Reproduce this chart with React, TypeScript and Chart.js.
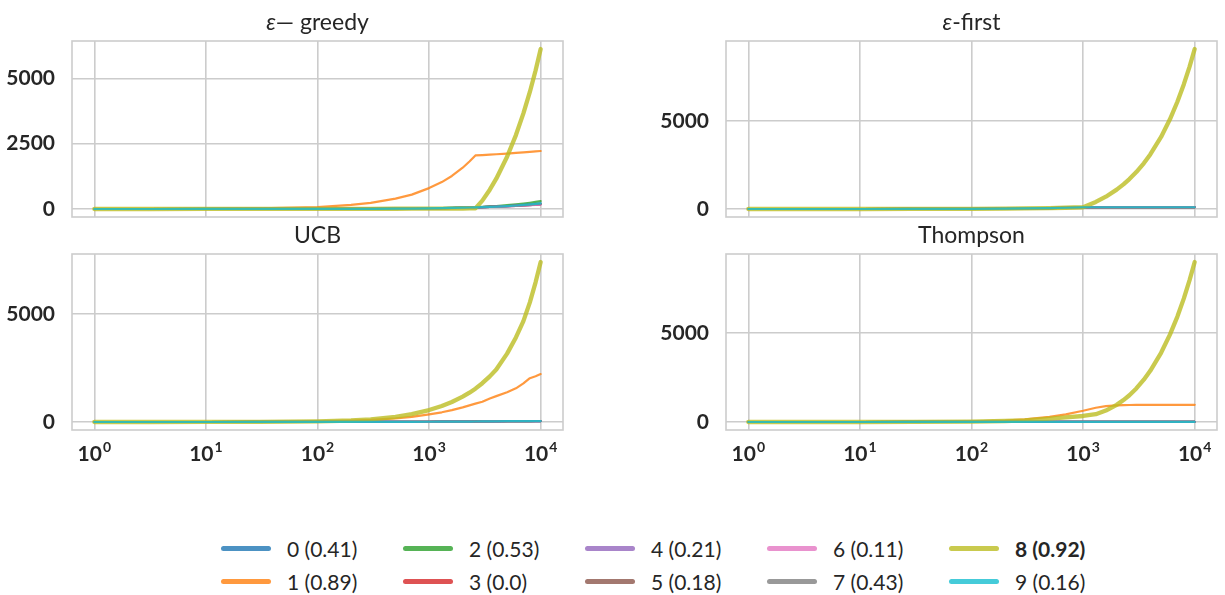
import React, { useEffect, useRef } from "react";
import { Chart, registerables } from "chart.js";

Chart.register(...registerables);

// Time steps (log-spaced sampling of the 10 000-step run)
const STEPS = [1, 3, 10, 30, 100, 200, 300, 500, 700, 1000, 1300, 1600, 2000, 2300, 2600, 3000, 3500, 4000, 5000, 6000, 7000, 8000, 9000, 10000];

// Arms: label shows the arm's success probability
const ARM_LABELS = ["0 (0.41)", "1 (0.89)", "2 (0.53)", "3 (0.0)", "4 (0.21)", "5 (0.18)", "6 (0.11)", "7 (0.43)", "8 (0.92)", "9 (0.16)"];
const BEST_ARM = 8;
const ARM_COLORS = [
  "rgba(31,119,180,0.8)",
  "rgba(255,127,14,0.8)",
  "rgba(44,160,44,0.8)",
  "rgba(214,39,40,0.8)",
  "rgba(148,103,189,0.8)",
  "rgba(140,86,75,0.8)",
  "rgba(227,119,194,0.8)",
  "rgba(127,127,127,0.8)",
  "rgba(188,189,34,0.8)",
  "rgba(23,190,207,0.8)",
];

const X_TICKS = [1, 10, 100, 1000, 10000];

// Cumulative pulls per arm — ε-greedy
const GREEDY_0 = [0, 0, 1, 2, 4, 6, 8, 13, 18, 25, 33, 40, 50, 58, 65, 75, 85, 95, 115, 138, 160, 180, 200, 220];
const GREEDY_1 = [1, 2, 6, 21, 75, 155, 235, 395, 550, 800, 1030, 1265, 1580, 1820, 2050, 2065, 2080, 2095, 2120, 2145, 2165, 2185, 2205, 2220];
const GREEDY_2 = [0, 0, 1, 2, 4, 7, 9, 14, 19, 27, 35, 43, 53, 62, 70, 85, 100, 115, 150, 180, 210, 240, 270, 300];
const GREEDY_3 = [0, 0, 0, 1, 3, 5, 7, 12, 17, 24, 31, 38, 48, 56, 63, 71, 80, 89, 105, 122, 138, 152, 166, 180];
const GREEDY_4 = [0, 0, 1, 1, 3, 5, 7, 11, 16, 23, 30, 37, 47, 55, 62, 70, 79, 88, 104, 121, 137, 151, 165, 180];
const GREEDY_5 = [0, 0, 0, 1, 3, 5, 8, 12, 17, 25, 32, 39, 49, 57, 64, 72, 81, 90, 107, 125, 141, 157, 171, 185];
const GREEDY_6 = [0, 0, 0, 1, 3, 5, 7, 11, 16, 23, 30, 37, 46, 54, 61, 68, 77, 85, 101, 118, 133, 147, 161, 175];
const GREEDY_7 = [0, 0, 1, 2, 4, 6, 8, 13, 18, 25, 33, 40, 50, 58, 66, 74, 83, 92, 110, 128, 147, 165, 183, 200];
const GREEDY_8 = [0, 0, 1, 2, 4, 6, 8, 10, 12, 14, 16, 18, 20, 22, 24, 320, 740, 1160, 2000, 2830, 3660, 4480, 5300, 6125];
const GREEDY_9 = [0, 0, 1, 2, 4, 6, 8, 13, 18, 25, 33, 40, 50, 57, 64, 72, 82, 92, 112, 135, 155, 175, 195, 215];

// ε-first
const FIRST_0 = [0, 0, 1, 3, 10, 20, 30, 50, 70, 100, 100, 100, 100, 100, 100, 100, 100, 100, 100, 100, 100, 100, 100, 100];
const FIRST_1 = [0, 0, 1, 3, 10, 20, 30, 50, 70, 101, 101, 101, 101, 101, 101, 101, 101, 101, 101, 101, 101, 101, 101, 101];
const FIRST_2 = [0, 0, 1, 3, 10, 20, 30, 50, 70, 100, 100, 100, 100, 100, 100, 100, 100, 100, 100, 100, 100, 100, 100, 100];
const FIRST_3 = [0, 0, 1, 3, 10, 20, 30, 50, 70, 99, 99, 99, 99, 99, 99, 99, 99, 99, 99, 99, 99, 99, 99, 99];
const FIRST_4 = [0, 0, 1, 3, 10, 20, 30, 50, 70, 100, 100, 100, 100, 100, 100, 100, 100, 100, 100, 100, 100, 100, 100, 100];
const FIRST_5 = [0, 0, 1, 3, 10, 20, 30, 50, 70, 100, 100, 100, 100, 100, 100, 100, 100, 100, 100, 100, 100, 100, 100, 100];
const FIRST_6 = [0, 0, 1, 3, 10, 20, 30, 50, 70, 101, 101, 101, 101, 101, 101, 101, 101, 101, 101, 101, 101, 101, 101, 101];
const FIRST_7 = [0, 0, 1, 3, 10, 20, 30, 50, 70, 99, 99, 99, 99, 99, 99, 99, 99, 99, 99, 99, 99, 99, 99, 99];
const FIRST_8 = [0, 0, 1, 3, 10, 20, 30, 50, 70, 100, 400, 700, 1100, 1400, 1700, 2100, 2600, 3100, 4100, 5100, 6100, 7100, 8100, 9100];
const FIRST_9 = [0, 0, 1, 3, 10, 20, 30, 50, 70, 100, 100, 100, 100, 100, 100, 100, 100, 100, 100, 100, 100, 100, 100, 100];

// UCB
const UCB_0 = [0, 0, 1, 3, 5, 7, 8, 9, 10, 11, 14, 17, 19, 21, 24, 28, 31, 33, 36, 39, 41, 43, 44, 45];
const UCB_1 = [0, 1, 1, 5, 25, 60, 95, 165, 240, 356, 450, 550, 680, 770, 850, 940, 1090, 1200, 1380, 1560, 1790, 2030, 2120, 2222];
const UCB_2 = [0, 0, 1, 3, 5, 7, 8, 9, 10, 12, 15, 18, 20, 22, 25, 29, 32, 34, 37, 40, 42, 44, 46, 47];
const UCB_3 = [0, 0, 1, 2, 4, 6, 7, 8, 9, 10, 13, 16, 18, 20, 23, 27, 30, 32, 35, 38, 40, 42, 43, 44];
const UCB_4 = [0, 0, 1, 3, 5, 7, 8, 9, 10, 11, 14, 17, 19, 21, 24, 28, 31, 33, 36, 39, 41, 43, 44, 45];
const UCB_5 = [0, 0, 1, 3, 5, 7, 8, 9, 10, 11, 14, 16, 19, 21, 24, 27, 30, 33, 36, 38, 41, 43, 44, 45];
const UCB_6 = [0, 0, 1, 2, 4, 6, 7, 8, 9, 10, 13, 16, 18, 20, 23, 27, 30, 32, 35, 38, 40, 42, 43, 44];
const UCB_7 = [0, 0, 1, 3, 5, 7, 8, 9, 10, 12, 15, 18, 20, 22, 25, 29, 32, 34, 37, 40, 42, 44, 46, 47];
const UCB_8 = [1, 1, 2, 7, 30, 70, 120, 240, 365, 555, 740, 930, 1175, 1360, 1546, 1800, 2117, 2435, 3170, 3920, 4680, 5550, 6480, 7421];
const UCB_9 = [0, 0, 1, 3, 5, 7, 8, 9, 10, 11, 14, 17, 19, 21, 24, 28, 31, 33, 36, 39, 41, 43, 44, 45];

// Thompson sampling
const THOMPSON_0 = [0, 0, 1, 2, 5, 7, 7, 8, 8, 8, 8, 9, 9, 9, 9, 9, 9, 10, 10, 10, 10, 10, 10, 10];
const THOMPSON_1 = [0, 1, 1, 5, 30, 80, 150, 290, 430, 630, 800, 890, 935, 948, 953, 955, 956, 957, 958, 959, 960, 960, 961, 962];
const THOMPSON_2 = [0, 0, 1, 2, 5, 7, 8, 8, 9, 9, 9, 10, 10, 10, 10, 10, 10, 11, 11, 11, 11, 11, 11, 11];
const THOMPSON_3 = [0, 0, 1, 2, 4, 5, 5, 6, 6, 6, 6, 6, 6, 6, 6, 6, 6, 7, 7, 7, 7, 7, 7, 7];
const THOMPSON_4 = [0, 0, 1, 2, 4, 6, 6, 7, 7, 7, 7, 8, 8, 8, 8, 8, 8, 8, 8, 8, 8, 8, 8, 8];
const THOMPSON_5 = [0, 0, 1, 2, 4, 6, 6, 7, 7, 7, 7, 7, 8, 8, 8, 8, 8, 8, 8, 8, 8, 8, 8, 8];
const THOMPSON_6 = [0, 0, 1, 2, 4, 5, 6, 6, 6, 6, 7, 7, 7, 7, 7, 7, 7, 7, 7, 7, 7, 7, 7, 7];
const THOMPSON_7 = [0, 0, 1, 2, 5, 7, 8, 8, 9, 9, 9, 10, 10, 10, 10, 10, 10, 10, 10, 10, 10, 10, 10, 10];
const THOMPSON_8 = [0, 0, 1, 5, 25, 55, 95, 190, 260, 337, 440, 640, 960, 1230, 1500, 1880, 2370, 2870, 3880, 4900, 5910, 6930, 7950, 8970];
const THOMPSON_9 = [0, 0, 1, 2, 4, 6, 6, 7, 7, 7, 7, 7, 7, 7, 7, 7, 7, 7, 8, 8, 8, 8, 8, 8];

const GREEDY = [GREEDY_0, GREEDY_1, GREEDY_2, GREEDY_3, GREEDY_4, GREEDY_5, GREEDY_6, GREEDY_7, GREEDY_8, GREEDY_9];
const FIRST = [FIRST_0, FIRST_1, FIRST_2, FIRST_3, FIRST_4, FIRST_5, FIRST_6, FIRST_7, FIRST_8, FIRST_9];
const UCB = [UCB_0, UCB_1, UCB_2, UCB_3, UCB_4, UCB_5, UCB_6, UCB_7, UCB_8, UCB_9];
const THOMPSON = [THOMPSON_0, THOMPSON_1, THOMPSON_2, THOMPSON_3, THOMPSON_4, THOMPSON_5, THOMPSON_6, THOMPSON_7, THOMPSON_8, THOMPSON_9];

const PANEL_TITLES = ["ε— greedy", "ε-first", "UCB", "Thompson"];
const Y_TICKS_GREEDY = [0, 2500, 5000];
const Y_TICKS_OTHER = [0, 5000];

const FONT = "Lato, 'Liberation Sans', 'DejaVu Sans', sans-serif";
const TEXT = "#262626";
const GRID = "#cccccc";

type Box = { left: number; top: number; width: number; height: number; yAxisWidth: number; padRight: number; padBottom: number; xAxisHeight: number };

function decorPlugin(title: string, showXLabels: boolean) {
  return {
    id: "panelDecor",
    beforeDatasetsDraw(chart: any) {
      const { ctx, chartArea: a } = chart;
      ctx.save();
      ctx.strokeStyle = GRID;
      ctx.lineWidth = 1.6;
      ctx.strokeRect(a.left, a.top, a.right - a.left, a.bottom - a.top);
      ctx.restore();
    },
    afterDraw(chart: any) {
      const { ctx, chartArea: a } = chart;
      ctx.save();
      ctx.fillStyle = TEXT;
      ctx.textBaseline = "alphabetic";
      ctx.textAlign = "left";
      // panel title, centred over the plot area; a leading ε is set in italics
      const cx = (a.left + a.right) / 2;
      const ty = a.top - 11;
      const italicPart = title.startsWith("ε") ? "ε" : "";
      const rest = title.slice(italicPart.length);
      ctx.font = `italic 23px ${FONT}`;
      const wi = italicPart ? ctx.measureText(italicPart).width : 0;
      ctx.font = `23px ${FONT}`;
      const wr = ctx.measureText(rest).width;
      let x = cx - (wi + wr) / 2;
      if (italicPart) {
        ctx.font = `italic 23px ${FONT}`;
        ctx.fillText(italicPart, x, ty);
        x += wi;
      }
      ctx.font = `23px ${FONT}`;
      ctx.fillText(rest, x, ty);

      // x tick labels as powers of ten
      if (showXLabels) {
        const xs = chart.scales.x;
        for (const v of X_TICKS) {
          const px = xs.getPixelForValue(v);
          const exp = String(Math.round(Math.log10(v)));
          ctx.font = `bold 21px ${FONT}`;
          const wb = ctx.measureText("10").width;
          ctx.font = `bold 14px ${FONT}`;
          const we = ctx.measureText(exp).width;
          const x0 = px - (wb + we + 1) / 2;
          ctx.font = `bold 21px ${FONT}`;
          ctx.fillText("10", x0, a.bottom + 31);
          ctx.font = `bold 14px ${FONT}`;
          ctx.fillText(exp, x0 + wb + 1, a.bottom + 22);
        }
      }
      ctx.restore();
    },
  };
}

function Panel({ title, series, yTicks, showXLabels, box }: { title: string; series: number[][]; yTicks: number[]; showXLabels: boolean; box: Box }) {
  const ref = useRef<HTMLCanvasElement>(null);

  useEffect(() => {
    if (!ref.current) return;
    const datasets = series.map((vals, arm) => ({
      label: ARM_LABELS[arm],
      data: STEPS.map((x, i) => ({ x, y: vals[i] })),
      borderColor: ARM_COLORS[arm],
      backgroundColor: ARM_COLORS[arm],
      borderWidth: arm === BEST_ARM ? 4.3 : 2.2,
      pointRadius: 0,
      tension: 0,
      borderCapStyle: "round" as const,
      borderJoinStyle: "round" as const,
      order: ARM_LABELS.length - 1 - arm,
    }));
    const all = series.flat();
    const lo = Math.min(...all);
    const hi = Math.max(...all);
    const margin = (hi - lo) * 0.05;

    const chart = new Chart(ref.current, {
      type: "line",
      data: { datasets },
      options: {
        animation: false,
        responsive: false,
        maintainAspectRatio: false,
        layout: { padding: { left: 0, top: 41, right: box.padRight, bottom: box.padBottom } },
        plugins: { legend: { display: false }, tooltip: { enabled: false }, title: { display: false } },
        scales: {
          x: {
            type: "logarithmic",
            bounds: "data",
            min: Math.pow(10, -0.2),
            max: Math.pow(10, 4.2),
            afterBuildTicks: (s: any) => {
              s.ticks = X_TICKS.map((v) => ({ value: v }));
            },
            afterFit: (s: any) => {
              s.height = box.xAxisHeight;
              s.paddingLeft = 0;
              s.paddingRight = 0;
            },
            ticks: { display: false },
            grid: { color: GRID, lineWidth: 1.6, drawTicks: false },
            border: { display: false },
          },
          y: {
            type: "linear",
            bounds: "data",
            min: lo - margin,
            max: hi + margin,
            afterBuildTicks: (s: any) => {
              s.ticks = yTicks.map((v) => ({ value: v }));
            },
            afterFit: (s: any) => {
              s.width = box.yAxisWidth;
              s.paddingTop = 0;
              s.paddingBottom = 0;
            },
            ticks: {
              color: TEXT,
              padding: 17,
              font: { family: FONT, size: 21, weight: "bold" },
              callback: (v: any) => String(v),
            },
            grid: { color: GRID, lineWidth: 1.6, drawTicks: false },
            border: { display: false },
          },
        },
      } as any,
      plugins: [decorPlugin(title, showXLabels)],
    });
    return () => chart.destroy();
  }, []);

  return (
    <canvas
      ref={ref}
      width={box.width}
      height={box.height}
      style={{ position: "absolute", left: box.left, top: box.top, width: box.width, height: box.height }}
    />
  );
}

const BOX_TL: Box = { left: 0, top: 0, width: 600, height: 225, yAxisWidth: 72, padRight: 37, padBottom: 8, xAxisHeight: 0 };
const BOX_TR: Box = { left: 640, top: 0, width: 585, height: 225, yAxisWidth: 86, padRight: 8, padBottom: 8, xAxisHeight: 0 };
const BOX_BL: Box = { left: 0, top: 213, width: 600, height: 262, yAxisWidth: 72, padRight: 37, padBottom: 0, xAxisHeight: 45 };
const BOX_BR: Box = { left: 640, top: 213, width: 585, height: 262, yAxisWidth: 86, padRight: 8, padBottom: 0, xAxisHeight: 45 };

function Legend() {
  return (
    <>
      {ARM_LABELS.map((label, arm) => {
        const col = Math.floor(arm / 2);
        const row = arm % 2;
        return (
          <div
            key={label}
            style={{
              position: "absolute",
              left: 221 + col * 182,
              top: 535 + row * 33,
              height: 26,
              display: "flex",
              alignItems: "center",
              fontFamily: FONT,
              fontSize: 21,
              color: TEXT,
              whiteSpace: "nowrap",
              fontWeight: arm === BEST_ARM ? "bold" : "normal",
            }}
          >
            <span style={{ display: "inline-block", width: 50, height: 5, borderRadius: 3, background: ARM_COLORS[arm], marginRight: 16 }} />
            <span>{label}</span>
          </div>
        );
      })}
    </>
  );
}

export default function App() {
  return (
    <div style={{ position: "fixed", left: 0, top: 0, width: 1225, height: 595, background: "#ffffff", overflow: "hidden" }}>
      <Panel title={PANEL_TITLES[0]} series={GREEDY} yTicks={Y_TICKS_GREEDY} showXLabels={false} box={BOX_TL} />
      <Panel title={PANEL_TITLES[1]} series={FIRST} yTicks={Y_TICKS_OTHER} showXLabels={false} box={BOX_TR} />
      <Panel title={PANEL_TITLES[2]} series={UCB} yTicks={Y_TICKS_OTHER} showXLabels={true} box={BOX_BL} />
      <Panel title={PANEL_TITLES[3]} series={THOMPSON} yTicks={Y_TICKS_OTHER} showXLabels={true} box={BOX_BR} />
      <Legend />
    </div>
  );
}
